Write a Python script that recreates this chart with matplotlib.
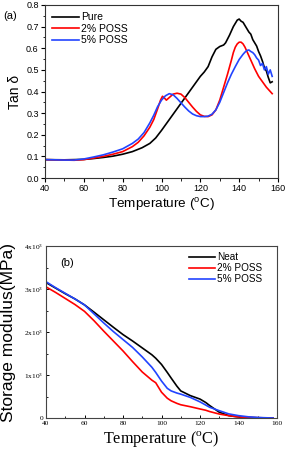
import matplotlib
matplotlib.use("Agg")
import matplotlib.pyplot as plt
from matplotlib.ticker import MultipleLocator

# ---------------- Panel (a): tan delta ----------------
t_pure = [40, 50, 60, 65, 70, 75, 80, 85, 90, 94, 97, 100, 102, 104, 106, 108, 110, 112, 114, 116,
          118, 120, 122, 124, 126, 128, 130, 132, 133, 135, 137, 138, 139, 140, 141, 142, 143, 144,
          145, 146, 147, 148, 149, 150, 151, 152, 153, 154, 155, 156, 157]
v_pure = [0.085, 0.084, 0.086, 0.090, 0.095, 0.101, 0.110, 0.122, 0.140, 0.160, 0.185, 0.220, 0.245,
          0.270, 0.295, 0.320, 0.345, 0.370, 0.395, 0.420, 0.445, 0.470, 0.490, 0.515, 0.560, 0.595,
          0.608, 0.615, 0.625, 0.660, 0.700, 0.715, 0.730, 0.735, 0.725, 0.720, 0.705, 0.690, 0.675,
          0.665, 0.640, 0.625, 0.610, 0.585, 0.565, 0.540, 0.510, 0.495, 0.465, 0.440, 0.445]

t_2 = [40, 50, 55, 60, 65, 70, 75, 80, 85, 88, 91, 94, 96, 98, 99.5, 100.5, 101.5, 102.5, 104, 106,
       108, 110, 112, 114, 116, 118, 120, 122, 124, 126, 128, 130, 132, 134, 136, 137, 138, 139, 140,
       141, 142, 143, 144, 146, 148, 150, 152, 154, 155, 156, 157]
v_2 = [0.085, 0.083, 0.082, 0.085, 0.092, 0.100, 0.110, 0.122, 0.145, 0.165, 0.195, 0.235, 0.270,
       0.320, 0.360, 0.378, 0.370, 0.360, 0.372, 0.388, 0.392, 0.388, 0.372, 0.350, 0.328, 0.308,
       0.292, 0.285, 0.284, 0.292, 0.315, 0.360, 0.420, 0.480, 0.545, 0.580, 0.605, 0.620, 0.628,
       0.628, 0.620, 0.605, 0.585, 0.545, 0.505, 0.470, 0.445, 0.420, 0.410, 0.400, 0.390]

t_5 = [40, 50, 55, 60, 65, 70, 75, 80, 85, 88, 91, 94, 96, 98, 100, 102, 104, 106, 108, 110, 112,
       114, 116, 118, 120, 122, 124, 126, 128, 130, 132, 134, 136, 138, 140, 141, 142, 143, 144, 145,
       146, 147, 148, 149, 150, 151, 152, 153, 154, 155, 156, 157]
v_5 = [0.085, 0.083, 0.083, 0.088, 0.097, 0.107, 0.120, 0.135, 0.160, 0.180, 0.210, 0.255, 0.290,
       0.330, 0.360, 0.380, 0.390, 0.385, 0.368, 0.348, 0.328, 0.310, 0.296, 0.288, 0.284, 0.284,
       0.286, 0.295, 0.315, 0.350, 0.395, 0.440, 0.480, 0.515, 0.548, 0.560, 0.572, 0.582, 0.590,
       0.592, 0.585, 0.580, 0.570, 0.555, 0.545, 0.520, 0.530, 0.500, 0.515, 0.480, 0.500, 0.470]

# ---------------- Panel (b): storage modulus ----------------
t_b = [40, 45, 50, 55, 60, 65, 70, 75, 80, 85, 90, 95, 97, 100, 103, 105, 108, 110, 115, 120, 123,
       125, 130, 135, 140, 145, 150, 155, 158]
neat = [3150, 3020, 2890, 2770, 2630, 2460, 2285, 2110, 1940, 1790, 1630, 1470, 1390, 1246, 1060,
        930, 740, 630, 520, 440, 360, 290, 135, 55, 25, 12, 6, 2, 0]
poss2 = [3050, 2920, 2780, 2640, 2480, 2260, 2020, 1790, 1560, 1310, 1070, 880, 820, 600, 460,
         400, 340, 308, 262, 210, 180, 150, 92, 54, 25, 12, 6, 2, 0]
poss5 = [3170, 3030, 2900, 2770, 2630, 2420, 2210, 2010, 1825, 1640, 1420, 1180, 1060, 860, 690,
         630, 580, 555, 478, 375, 300, 250, 170, 95, 55, 28, 12, 4, 0]

SANS = "Liberation Sans"
SERIF = "Liberation Serif"

fig = plt.figure(figsize=(2.88, 4.55), dpi=100)

# ---- (a)
ax1 = fig.add_axes([45/288, 1-178/455, (278-45)/288, (178-5)/455])
ax1.plot(t_pure, v_pure, color="black", lw=1.2, label="Pure")
ax1.plot(t_2, v_2, color="#ff0000", lw=1.2, label="2% POSS")
ax1.plot(t_5, v_5, color="#2244ff", lw=1.2, label="5% POSS")
ax1.set_xlim(40, 160)
ax1.set_ylim(0, 0.8)
ax1.xaxis.set_major_locator(MultipleLocator(20))
ax1.xaxis.set_minor_locator(MultipleLocator(10))
ax1.yaxis.set_major_locator(MultipleLocator(0.1))
ax1.yaxis.set_minor_locator(MultipleLocator(0.05))
ax1.tick_params(which="major", direction="out", length=3, width=0.8, labelsize=6.5, pad=1.5)
ax1.tick_params(which="minor", direction="out", length=1.8, width=0.6)
ax1.yaxis.set_major_formatter(matplotlib.ticker.FormatStrFormatter("%.1f"))
for lab in ax1.get_xticklabels() + ax1.get_yticklabels():
    lab.set_fontfamily(SANS)
ax1.set_xlabel("Temperature ($^\\mathregular{o}$C)", fontsize=9.7, family=SANS, labelpad=2)
ax1.set_ylabel("Tan δ", fontsize=10, family=SANS, labelpad=3)
for s in ax1.spines.values():
    s.set_linewidth(0.8)
    s.set_color("#333333")
ax1.legend(loc="upper left", frameon=False, prop={"family": SANS, "size": 7.5},
           handlelength=2.6, handletextpad=0.2, labelspacing=0.15,
           borderaxespad=0.3, bbox_to_anchor=(0.0, 1.0))
fig.text(3/288, 1-16/455, "(a)", fontsize=8, family=SANS, va="center", ha="left")

# ---- (b)
ax2 = fig.add_axes([46/288, 1-418/455, (277-46)/288, (418-246)/455])
ax2.plot(t_b, neat, color="black", lw=1.2, label="Neat")
ax2.plot(t_b, poss2, color="#ff0000", lw=1.2, label="2% POSS")
ax2.plot(t_b, poss5, color="#2244ff", lw=1.2, label="5% POSS")
ax2.set_xlim(40, 160)
ax2.set_ylim(0, 4000)
ax2.xaxis.set_major_locator(MultipleLocator(20))
ax2.xaxis.set_minor_locator(MultipleLocator(10))
ax2.yaxis.set_major_locator(MultipleLocator(1000))
ax2.yaxis.set_minor_locator(MultipleLocator(500))
ax2.yaxis.set_major_formatter(matplotlib.ticker.FuncFormatter(
    lambda v, p: "0" if v == 0 else "%dx10$^\\mathregular{3}$" % int(round(v/1000))))
ax2.tick_params(which="major", direction="in", length=2.5, width=0.7, labelsize=5.3, pad=2)
ax2.tick_params(which="minor", direction="in", length=1.5, width=0.6)
for lab in ax2.get_xticklabels() + ax2.get_yticklabels():
    lab.set_fontfamily(SERIF)
ax2.set_xlabel("Temperature ($^\\mathregular{o}$C)", fontsize=11.7, family=SERIF, labelpad=2)
ax2.set_ylabel("Storage modulus(MPa)", fontsize=12.5, family=SANS)
ax2.yaxis.set_label_coords(-0.128, 0.5)
for s in ax2.spines.values():
    s.set_linewidth(0.8)
    s.set_color("#444444")
ax2.legend(loc="upper right", frameon=False, prop={"family": SANS, "size": 7.2},
           handlelength=2.6, handletextpad=0.2, labelspacing=0.1,
           borderaxespad=0.2, bbox_to_anchor=(0.96, 1.0))
ax2.text(0.06, 0.9, "(b)", transform=ax2.transAxes, fontsize=8, family=SANS, va="center")

fig.savefig("out.png", dpi=100)
